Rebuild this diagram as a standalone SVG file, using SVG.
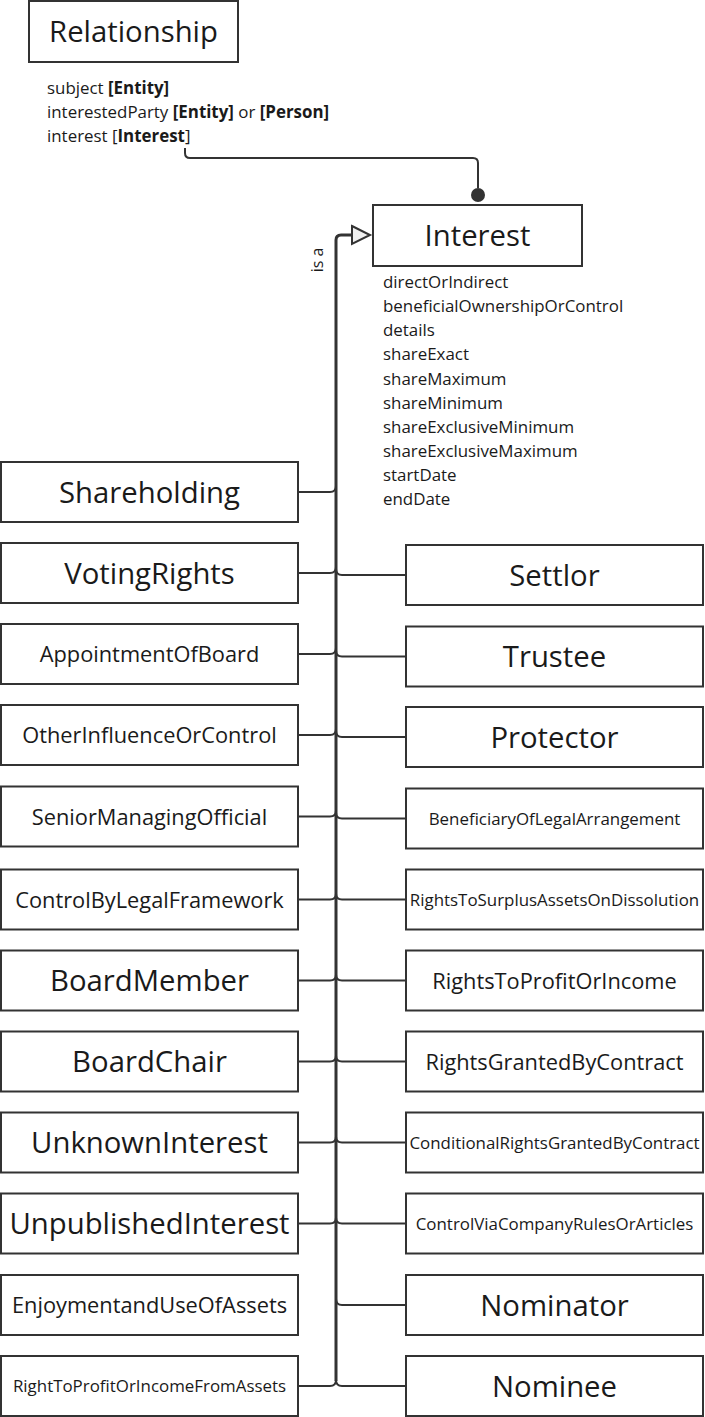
<svg xmlns="http://www.w3.org/2000/svg" width="705" height="1417" viewBox="0 0 705 1417">
<defs>
<style>
text{font-family:"Open Sans","Noto Sans","Liberation Sans",sans-serif;fill:#1a1a1a}
.box{fill:#fff;stroke:#333;stroke-width:2}
.c{text-anchor:middle}
.xl{font-size:29.3px}
.md{font-size:21.8px}
.sm{font-size:16.9px}
.attr{font-size:16.9px}
.b{font-weight:bold}
.ln{fill:none;stroke:#333;stroke-width:2}
.trunk{fill:none;stroke:#333;stroke-width:3}
</style>
<marker id="tri" markerUnits="userSpaceOnUse" markerWidth="22" markerHeight="24" refX="1" refY="10" orient="auto" viewBox="0 0 22 20">
<path d="M1,1 L19,10 L1,19 Z" fill="#f0f0f0" stroke="#333" stroke-width="2"/>
</marker>
<marker id="dot" markerUnits="userSpaceOnUse" markerWidth="16" markerHeight="16" refX="1" refY="8" orient="auto" viewBox="0 0 16 16">
<circle cx="8" cy="8" r="7" fill="#333"/>
</marker>
</defs>
<rect width="705" height="1417" fill="#fff"/>

<g id="connectors">
<path class="ln" d="M185,148 V153 Q185,158 190,158 H473 Q478,158 478,163 V188" marker-end="url(#dot)"/>
<path class="trunk" d="M336,1381 V240 Q336,235 341,235 H352" marker-end="url(#tri)"/>
<path class="ln" d="M299,492 H330 Q336,492 336,486"/>
<path class="ln" d="M299,573 H330 Q336,573 336,567"/>
<path class="ln" d="M299,654 H330 Q336,654 336,648"/>
<path class="ln" d="M299,735 H330 Q336,735 336,729"/>
<path class="ln" d="M299,816.5 H330 Q336,816.5 336,810.5"/>
<path class="ln" d="M299,899.5 H330 Q336,899.5 336,893.5"/>
<path class="ln" d="M299,980.5 H330 Q336,980.5 336,974.5"/>
<path class="ln" d="M299,1061.5 H330 Q336,1061.5 336,1055.5"/>
<path class="ln" d="M299,1142.5 H330 Q336,1142.5 336,1136.5"/>
<path class="ln" d="M299,1223.5 H330 Q336,1223.5 336,1217.5"/>
<path class="ln" d="M299,1386 H330 Q336,1386 336,1380"/>
<path class="ln" d="M406,575 H342 Q336,575 336,569"/>
<path class="ln" d="M406,656.5 H342 Q336,656.5 336,650.5"/>
<path class="ln" d="M406,737 H342 Q336,737 336,731"/>
<path class="ln" d="M406,818.5 H342 Q336,818.5 336,812.5"/>
<path class="ln" d="M406,899.5 H342 Q336,899.5 336,893.5"/>
<path class="ln" d="M406,980.5 H342 Q336,980.5 336,974.5"/>
<path class="ln" d="M406,1061.5 H342 Q336,1061.5 336,1055.5"/>
<path class="ln" d="M406,1142.5 H342 Q336,1142.5 336,1136.5"/>
<path class="ln" d="M406,1223.5 H342 Q336,1223.5 336,1217.5"/>
<path class="ln" d="M406,1305 H342 Q336,1305 336,1299"/>
<path class="ln" d="M406,1386 H342 Q336,1386 336,1380"/>
<text x="323" y="260" class="c" font-size="16" fill="#333" transform="rotate(-90 323 260)">is a</text>
</g>

<g id="relationship">
<rect class="box" x="29" y="1" width="209" height="61"/>
<text x="133.5" y="42" class="c xl">Relationship</text>
<text x="47" y="94" class="attr">subject <tspan class="b">[Entity]</tspan></text>
<text x="47" y="118" class="attr">interestedParty <tspan class="b">[Entity]</tspan> or <tspan class="b">[Person]</tspan></text>
<text x="47" y="142" class="attr">interest [<tspan class="b">Interest</tspan>]</text>
</g>

<g id="interest">
<rect class="box" x="373" y="205" width="209" height="61"/>
<text x="477.5" y="246" class="c xl">Interest</text>
<text x="383" y="288" class="attr">directOrIndirect</text>
<text x="383" y="312" class="attr">beneficialOwnershipOrControl</text>
<text x="383" y="336" class="attr">details</text>
<text x="383" y="360" class="attr">shareExact</text>
<text x="383" y="385" class="attr">shareMaximum</text>
<text x="383" y="409" class="attr">shareMinimum</text>
<text x="383" y="433" class="attr">shareExclusiveMinimum</text>
<text x="383" y="457" class="attr">shareExclusiveMaximum</text>
<text x="383" y="481" class="attr">startDate</text>
<text x="383" y="505" class="attr">endDate</text>
</g>

<g id="shareholding"><rect class="box" x="1" y="462" width="297" height="60"/><text x="149.5" y="502.5" class="c xl">Shareholding</text></g>
<g id="votingRights"><rect class="box" x="1" y="543" width="297" height="60"/><text x="149.5" y="583.5" class="c xl">VotingRights</text></g>
<g id="appointmentOfBoard"><rect class="box" x="1" y="624" width="297" height="60"/><text x="149.5" y="662" class="c md">AppointmentOfBoard</text></g>
<g id="otherInfluenceOrControl"><rect class="box" x="1" y="705" width="297" height="60"/><text x="149.5" y="743" class="c md">OtherInfluenceOrControl</text></g>
<g id="seniorManagingOfficial"><rect class="box" x="1" y="786.5" width="297" height="60"/><text x="149.5" y="824.5" class="c md">SeniorManagingOfficial</text></g>
<g id="controlByLegalFramework"><rect class="box" x="1" y="869.5" width="297" height="60"/><text x="149.5" y="907.5" class="c md">ControlByLegalFramework</text></g>
<g id="boardMember"><rect class="box" x="1" y="950.5" width="297" height="60"/><text x="149.5" y="991" class="c xl">BoardMember</text></g>
<g id="boardChair"><rect class="box" x="1" y="1031.5" width="297" height="60"/><text x="149.5" y="1072" class="c xl">BoardChair</text></g>
<g id="unknownInterest"><rect class="box" x="1" y="1112.5" width="297" height="60"/><text x="149.5" y="1153" class="c xl">UnknownInterest</text></g>
<g id="unpublishedInterest"><rect class="box" x="1" y="1193.5" width="297" height="60"/><text x="149.5" y="1234" class="c xl">UnpublishedInterest</text></g>
<g id="enjoymentandUseOfAssets"><rect class="box" x="1" y="1275" width="297" height="60"/><text x="149.5" y="1313" class="c md">EnjoymentandUseOfAssets</text></g>
<g id="rightToProfitOrIncomeFromAssets"><rect class="box" x="1" y="1356" width="297" height="60"/><text x="149.5" y="1392" class="c sm">RightToProfitOrIncomeFromAssets</text></g>

<g id="settlor"><rect class="box" x="406" y="545" width="297" height="60"/><text x="554.5" y="585.5" class="c xl">Settlor</text></g>
<g id="trustee"><rect class="box" x="406" y="626.5" width="297" height="60"/><text x="554.5" y="667" class="c xl">Trustee</text></g>
<g id="protector"><rect class="box" x="406" y="707" width="297" height="60"/><text x="554.5" y="747.5" class="c xl">Protector</text></g>
<g id="beneficiaryOfLegalArrangement"><rect class="box" x="406" y="788.5" width="297" height="60"/><text x="554.5" y="824.5" class="c sm">BeneficiaryOfLegalArrangement</text></g>
<g id="rightsToSurplusAssetsOnDissolution"><rect class="box" x="406" y="869.5" width="297" height="60"/><text x="554.5" y="905.5" class="c sm">RightsToSurplusAssetsOnDissolution</text></g>
<g id="rightsToProfitOrIncome"><rect class="box" x="406" y="950.5" width="297" height="60"/><text x="554.5" y="988.5" class="c md">RightsToProfitOrIncome</text></g>
<g id="rightsGrantedByContract"><rect class="box" x="406" y="1031.5" width="297" height="60"/><text x="554.5" y="1069.5" class="c md">RightsGrantedByContract</text></g>
<g id="conditionalRightsGrantedByContract"><rect class="box" x="406" y="1112.5" width="297" height="60"/><text x="554.5" y="1148.5" class="c sm">ConditionalRightsGrantedByContract</text></g>
<g id="controlViaCompanyRulesOrArticles"><rect class="box" x="406" y="1193.5" width="297" height="60"/><text x="554.5" y="1229.5" class="c sm">ControlViaCompanyRulesOrArticles</text></g>
<g id="nominator"><rect class="box" x="406" y="1275" width="297" height="60"/><text x="554.5" y="1315.5" class="c xl">Nominator</text></g>
<g id="nominee"><rect class="box" x="406" y="1356" width="297" height="60"/><text x="554.5" y="1396.5" class="c xl">Nominee</text></g>
</svg>
